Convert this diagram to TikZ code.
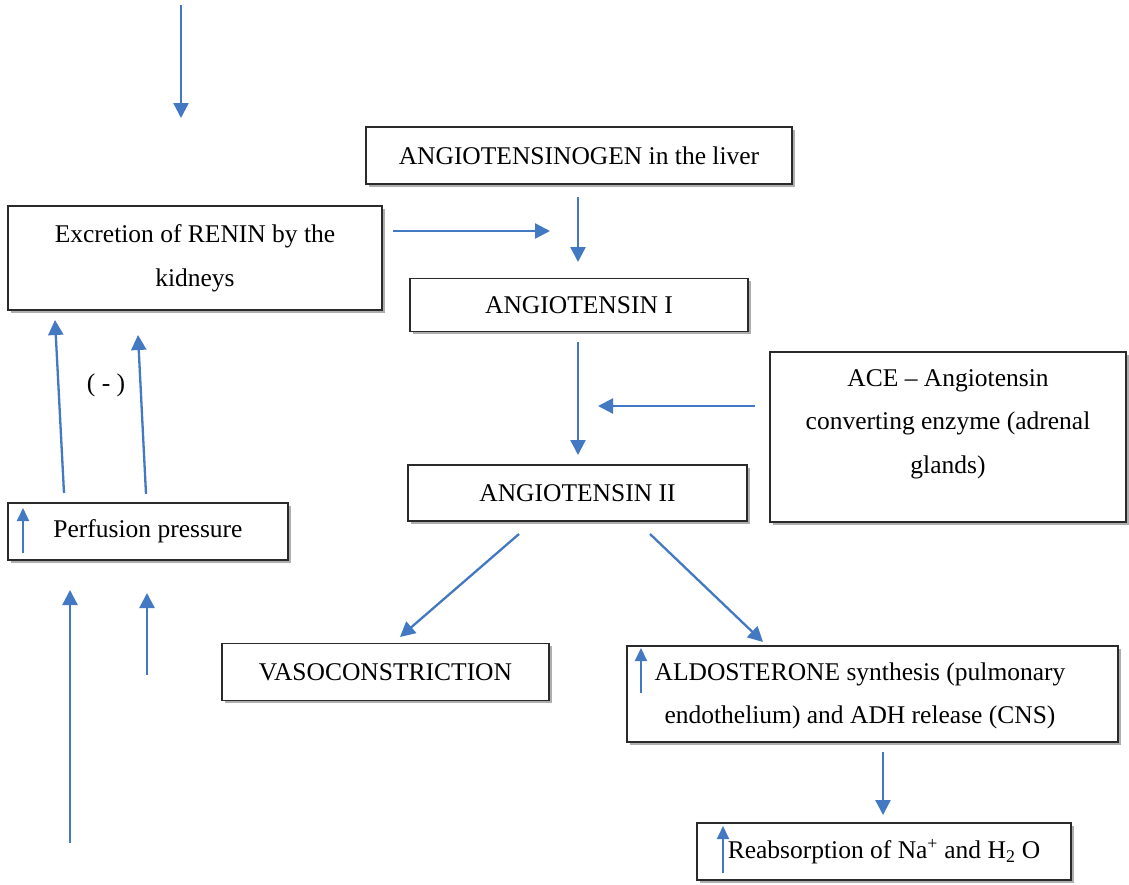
\documentclass[tikz,border=0pt]{standalone}
\usepackage{fontspec}
\setmainfont{Liberation Serif}
\usetikzlibrary{arrows.meta,shadows}
\definecolor{arrblue}{HTML}{4279C2}
\definecolor{boxline}{HTML}{2A2A2A}
\tikzset{
  box/.style={draw=boxline, line width=1.4pt, fill=white, inner sep=0pt,
    align=center, font=\fontsize{25.5}{44}\selectfont,
    drop shadow={shadow xshift=2.5pt, shadow yshift=-2.5pt, opacity=0.45, fill=black!70}},
  txt/.style={align=center, inner sep=0pt, font=\fontsize{25.5}{43.5}\selectfont},
  arr/.style={draw=arrblue, line width=2.3pt, -{Triangle[width=15pt,length=15pt]}},
  smallarr/.style={draw=arrblue, line width=2pt, -{Triangle[width=12pt,length=13pt]}},
  lbl/.style={font=\fontsize{25.5}{30}\selectfont, inner sep=0pt}
}
\begin{document}
\begin{tikzpicture}[x=1pt,y=-1pt]
\useasboundingbox (0,0) rectangle (1129,884);
\fill[white] (0,0) rectangle (1129,884);
% boxes
\node[box, minimum width=426pt, minimum height=57pt] (agen) at (579,155.5) {ANGIOTENSINOGEN in the liver};
\node[box, minimum width=374pt, minimum height=104pt] (renin) at (195,258) {Excretion of RENIN by the\\kidneys};
\node[box, minimum width=338pt, minimum height=53pt] (ang1) at (579,305) {ANGIOTENSIN I};
\node[box, minimum width=356pt, minimum height=170pt] (ace) at (948,437) {};
\node[txt] (acetext) at (948,424) {ACE -- Angiotensin\\converting enzyme (adrenal\\glands)};
\node[box, minimum width=339pt, minimum height=56pt] (ang2) at (577.5,493) {ANGIOTENSIN II};
\node[box, minimum width=280pt, minimum height=57pt] (perf) at (148,531.5) {Perfusion pressure};
\node[box, minimum width=327pt, minimum height=57pt] (vaso) at (385.5,672) {VASOCONSTRICTION};
\node[box, minimum width=491pt, minimum height=96pt] (aldo) at (872.5,694) {};
\node[txt] (aldotext) at (860,696) {ALDOSTERONE synthesis (pulmonary\\endothelium) and ADH release (CNS)};
\node[box, minimum width=374pt, minimum height=57pt] (reab) at (884,851.5) {Reabsorption of Na\textsuperscript{+} and H\textsubscript{2} O};
\node[lbl] (minus) at (106,385) {( - )};
% named coordinates for free arrow ends
\coordinate (t0) at (181,5);
\coordinate (t1) at (181,118);
\coordinate (r0) at (393,231);
\coordinate (r1) at (550,231);
\coordinate (g0) at (578,197);
\coordinate (g1) at (578,262);
\coordinate (a0) at (578,342);
\coordinate (a1) at (578,455);
\coordinate (c0) at (755,406);
\coordinate (c1) at (598,406);
\coordinate (v0) at (519,534);
\coordinate (v1) at (400,637);
\coordinate (d0) at (650,534);
\coordinate (d1) at (763,642);
\coordinate (e0) at (883,752);
\coordinate (e1) at (883,815);
\coordinate (p0) at (64,493);
\coordinate (p1) at (55,320);
\coordinate (q0) at (146,494);
\coordinate (q1) at (138,335);
\coordinate (b0) at (70,843);
\coordinate (b1) at (70,590);
\coordinate (s0) at (147,675);
\coordinate (s1) at (147,593);
% small up arrows in boxes
\coordinate (u0) at (23,553);
\coordinate (u1) at (23,508);
\coordinate (w0) at (641,693);
\coordinate (w1) at (641,648);
\coordinate (x0) at (723,873);
\coordinate (x1) at (723,826);
% connectors
\draw[arr] (t0) -- (t1);
\draw[arr] (r0) -- (r1);
\draw[arr] (g0) -- (g1);
\draw[arr] (a0) -- (a1);
\draw[arr] (c0) -- (c1);
\draw[arr] (v0) -- (v1);
\draw[arr] (d0) -- (d1);
\draw[arr] (e0) -- (e1);
\draw[arr] (p0) -- (p1);
\draw[arr] (q0) -- (q1);
\draw[arr] (b0) -- (b1);
\draw[arr] (s0) -- (s1);
\draw[smallarr] (u0) -- (u1);
\draw[smallarr] (w0) -- (w1);
\draw[smallarr] (x0) -- (x1);
\end{tikzpicture}
\end{document}
